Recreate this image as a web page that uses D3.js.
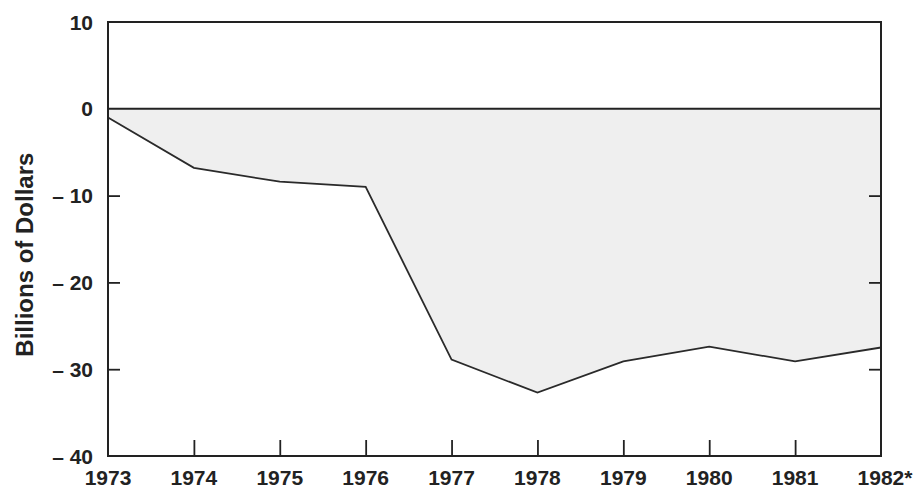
<!DOCTYPE html>
<html><head><meta charset="utf-8">
<script src="https://cdn.jsdelivr.net/npm/d3@7"></script>
<style>body{margin:0;background:#fff}svg{display:block}text{font-family:"Liberation Sans",Arial,sans-serif;font-weight:bold;fill:#222}</style>
</head><body><svg id="c" width="922" height="493"></svg>
<script>
const years = ["1973","1974","1975","1976","1977","1978","1979","1980","1981","1982*"];
const values = [-1.0,-6.8,-8.4,-9.0,-28.9,-32.7,-29.1,-27.4,-29.1,-27.5];
const yTicks = [10,0,-10,-20,-30,-40];
const yLabel = "Billions of Dollars";

const svg = d3.select("#c");
const m = {l:108,r:41,t:22,b:37};
const W = 922, H = 493;
const x = d3.scalePoint().domain(years).range([m.l, W-m.r]);
const y = d3.scaleLinear().domain([-40,10]).range([H-m.b, m.t]);
const data = years.map((d,i)=>({year:d,v:values[i]}));

svg.append("path").datum(data)
  .attr("d", d3.area().x(d=>x(d.year)).y0(y(0)).y1(d=>y(d.v)))
  .attr("fill","#efefef");
svg.append("path").datum(data)
  .attr("d", d3.line().x(d=>x(d.year)).y(d=>y(d.v)))
  .attr("fill","none").attr("stroke","#2a2a2a").attr("stroke-width",1.8);
svg.append("line").attr("x1",x(years[0])).attr("x2",x(years[years.length-1]))
  .attr("y1",y(0)).attr("y2",y(0)).attr("stroke","#222").attr("stroke-width",2);

const fmt = v => v<0 ? "\u2013 "+Math.abs(v) : String(v);
const gl = svg.append("g").attr("transform",`translate(${m.l},0)`)
  .call(d3.axisRight(y).tickValues(yTicks).tickSize(12).tickFormat(""));
const gr = svg.append("g").attr("transform",`translate(${W-m.r},0)`)
  .call(d3.axisLeft(y).tickValues(yTicks).tickSize(12).tickFormat(""));
const gb = svg.append("g").attr("transform",`translate(0,${H-m.b})`)
  .call(d3.axisTop(x).tickSize(16).tickFormat(""));
[gl,gr,gb].forEach(g=>{g.selectAll("line").attr("stroke","#222").attr("stroke-width",1.8);
  g.select(".domain").remove();});
gb.selectAll(".tick").filter((d,i)=>i===0||i===years.length-1).remove();
gl.selectAll(".tick").filter(d=>d===0||d===10||d===-40).remove();
gr.selectAll(".tick").filter(d=>d===0||d===10||d===-40).remove();

svg.append("rect").attr("x",m.l).attr("y",m.t).attr("width",W-m.l-m.r).attr("height",H-m.t-m.b)
  .attr("fill","none").attr("stroke","#222").attr("stroke-width",2);

svg.append("g").selectAll("text").data(yTicks).join("text")
  .attr("x",93).attr("y",d=>y(d)).attr("dy","0.36em").attr("text-anchor","end")
  .attr("font-size",21).text(fmt);
svg.append("g").selectAll("text").data(years).join("text")
  .attr("x",d=>x(d)+(d.endsWith("*")?4:0)).attr("y",H-m.b+29).attr("text-anchor","middle")
  .attr("font-size",21).text(d=>d);
svg.append("text").attr("transform",`translate(33,${y(-16.8)}) rotate(-90)`)
  .attr("text-anchor","middle").attr("font-size",24).text(yLabel);
</script></body></html>
